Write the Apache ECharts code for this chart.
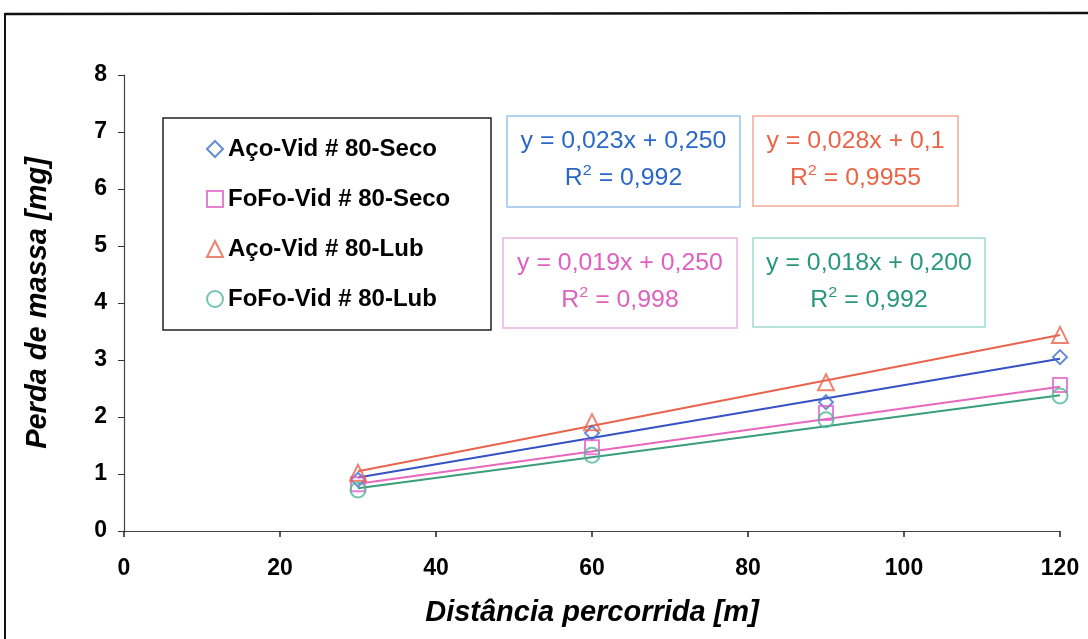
<!DOCTYPE html>
<html><head><meta charset="utf-8">
<script src="https://cdn.jsdelivr.net/npm/echarts@6/dist/echarts.min.js"></script>
<style>html,body{margin:0;padding:0;background:#fff}#c{width:1088px;height:639px}</style>
</head><body><div id="c"></div>
<script>
const distances = [30, 60, 90, 120];
const seriesNames = ['Aço-Vid # 80-Seco', 'FoFo-Vid # 80-Seco', 'Aço-Vid # 80-Lub', 'FoFo-Vid # 80-Lub'];
const acoSeco = [0.90, 1.72, 2.26, 3.05];
const fofoSeco = [0.82, 1.47, 2.07, 2.56];
const acoLub = [1.02, 1.91, 2.61, 3.44];
const fofoLub = [0.72, 1.33, 1.95, 2.37];
// trend line endpoints (x = 30 and x = 120)
const trendX = [30, 120];
const trendAcoSeco = [0.94, 3.02];
const trendFofoSeco = [0.83, 2.53];
const trendAcoLub = [1.05, 3.44];
const trendFofoLub = [0.75, 2.38];
const equations = ['y = 0,023x + 0,250', 'y = 0,019x + 0,250', 'y = 0,028x + 0,1', 'y = 0,018x + 0,200'];
const r2Values = ['0,992', '0,998', '0,9955', '0,992'];
const xTicks = [0, 20, 40, 60, 80, 100, 120];
const yTicks = [0, 1, 2, 3, 4, 5, 6, 7, 8];

const FONT = 'Arial, "Liberation Sans", sans-serif';
const markerColors = ['#3f6fd0', '#e060c8', '#e8644e', '#4fb898'];
const lineColors = ['#3552c4', '#e868c0', '#e8644e', '#3a9e7c'];
const symbols = ['diamond', 'rect', 'triangle', 'circle'];
const sizes = [14, 14, 16, 15];
const eqText = ['#2a68c8', '#e060c0', '#ea6448', '#279878'];
const eqBorder = ['#96c4ec', '#eab4e4', '#eeaa98', '#9edccc'];
const values = [acoSeco, fofoSeco, acoLub, fofoLub];
const trends = [trendAcoSeco, trendFofoSeco, trendAcoLub, trendFofoLub];

const series = [];
for (let i = 0; i < 4; i++) {
  series.push({
    type: 'line', name: 'trend' + i, silent: true, symbol: 'none',
    data: trendX.map((x, j) => [x, trends[i][j]]),
    lineStyle: { color: lineColors[i], width: 2 }, z: 2
  });
}
for (let i = 0; i < 4; i++) {
  series.push({
    type: 'scatter', name: seriesNames[i], symbol: symbols[i], symbolSize: sizes[i],
    data: distances.map((x, j) => [x, values[i][j]]),
    itemStyle: { color: 'rgba(255,255,255,0)', borderColor: markerColors[i], borderWidth: 2 }, z: 3
  });
}

const boxes = [
  { x: 507, y: 116, w: 233, h: 91 },
  { x: 503, y: 238, w: 234, h: 90 },
  { x: 753, y: 116, w: 205, h: 90 },
  { x: 753, y: 238, w: 232, h: 89 }
];
const graphic = [
  { type: 'line', shape: { x1: 5, y1: 14, x2: 1088, y2: 13 }, style: { stroke: '#111', lineWidth: 2.5 } },
  { type: 'line', shape: { x1: 5, y1: 13, x2: 5, y2: 639 }, style: { stroke: '#111', lineWidth: 2 } },
  { type: 'rect', shape: { x: 163, y: 118, width: 328, height: 212 }, style: { fill: '#fff', stroke: '#222', lineWidth: 1.5 }, z: 1 }
];
boxes.forEach((b, i) => {
  graphic.push({ type: 'rect', shape: { x: b.x, y: b.y, width: b.w, height: b.h }, style: { fill: '#fff', stroke: eqBorder[i], lineWidth: 1.5 }, z: 1 });
  graphic.push({ type: 'text', x: b.x + b.w / 2, y: b.y + 26, z: 2, scaleX: 1.08,
    style: { text: equations[i], fill: eqText[i], font: '23px ' + FONT, align: 'center', verticalAlign: 'middle' } });
  graphic.push({ type: 'text', x: b.x + b.w / 2, y: b.y + 61, z: 2, scaleX: 1.08,
    style: { text: '{r|R}{s|2}{r| = ' + r2Values[i] + '}', align: 'center', verticalAlign: 'middle',
      rich: { r: { fill: eqText[i], font: '23px ' + FONT, verticalAlign: 'bottom' },
              s: { fill: eqText[i], font: '15px ' + FONT, verticalAlign: 'top', padding: [0, 0, 12, 0] } } } });
});

const chart = echarts.init(document.getElementById('c'), null, { renderer: 'canvas' });
chart.setOption({
  animation: false,
  backgroundColor: '#fff',
  grid: { left: 124, right: 28, top: 75, bottom: 108, containLabel: false },
  xAxis: {
    type: 'value', min: 0, max: 120, interval: 20,
    axisLine: { show: true, lineStyle: { color: '#444', width: 1.2 } },
    axisTick: { show: true, length: 6, lineStyle: { color: '#222', width: 1.5 } },
    splitLine: { show: false },
    axisLabel: { color: '#000', fontSize: 23, fontWeight: 'bold', fontFamily: FONT, margin: 26,
      formatter: v => xTicks.includes(v) ? String(v) : '' },
    name: 'Distância percorrida [m]', nameLocation: 'middle', nameGap: 67,
    nameTextStyle: { color: '#000', fontSize: 29, fontWeight: 'bold', fontStyle: 'italic', fontFamily: FONT }
  },
  yAxis: {
    type: 'value', min: 0, max: 8, interval: 1,
    axisLine: { show: true, lineStyle: { color: '#444', width: 1.2 } },
    axisTick: { show: true, length: 6, inside: false, lineStyle: { color: '#333', width: 1 } },
    splitLine: { show: false },
    axisLabel: { color: '#000', fontSize: 23, fontWeight: 'bold', fontFamily: FONT, margin: 17,
      formatter: v => yTicks.includes(v) ? String(v) : '' },
    name: 'Perda de massa [mg]', nameLocation: 'middle', nameGap: 72,
    nameTextStyle: { color: '#000', fontSize: 29, fontWeight: 'bold', fontStyle: 'italic', fontFamily: FONT }
  },
  legend: {
    data: seriesNames, orient: 'vertical', left: 201, top: 132, itemGap: 26, itemWidth: 16, itemHeight: 16,
    selectedMode: false, z: 5,
    textStyle: { color: '#000', fontSize: 24, fontWeight: 'bold', fontFamily: FONT, padding: [0, 0, 0, 0] }
  },
  graphic: graphic,
  series: series
});
</script></body></html>
